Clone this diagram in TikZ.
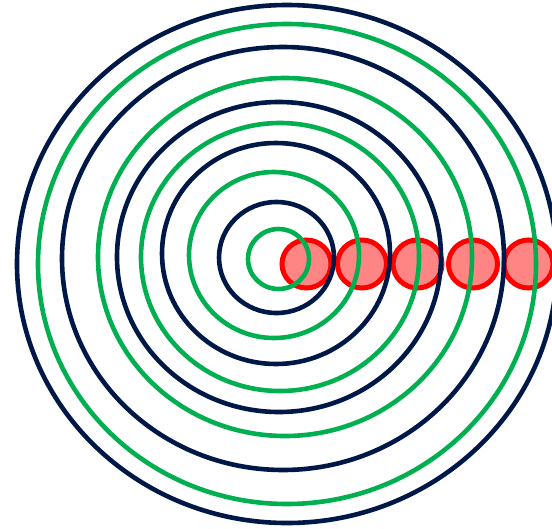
\documentclass[tikz,border=0pt]{standalone}
\definecolor{navyring}{HTML}{001848}
\definecolor{greenring}{HTML}{00B050}
\definecolor{dotfill}{HTML}{FF8585}
\tikzset{
  navyline/.style={draw=navyring,line width=4.6pt},
  greenline/.style={draw=greenring,line width=4.6pt},
  dotstyle/.style={draw=red,fill=dotfill,line width=5pt}
}
\begin{document}
\begin{tikzpicture}[x=1pt,y=-1pt]
\useasboundingbox (0,0) rectangle (552,528);
\begin{scope}
\clip (0,0) rectangle (552,528);
% red dots
\foreach \cx in {306.5,362,417.5,473,528.5}
  \path[dotstyle] (\cx,264) ellipse [x radius=24.5, y radius=24];
% rings
\path[navyline]  (287,264)   ellipse [x radius=270,  y radius=259];
\path[greenline] (287,264)   ellipse [x radius=249,  y radius=240];
\path[navyline]  (283,258.5) ellipse [x radius=221,  y radius=211.5];
\path[greenline] (285,257)   ellipse [x radius=187,  y radius=179];
\path[navyline]  (279,257)   ellipse [x radius=162,  y radius=155];
\path[greenline] (280,257)   ellipse [x radius=139,  y radius=134];
\path[navyline]  (276,253.5) ellipse [x radius=114,  y radius=110.5];
\path[greenline] (274,255)   ellipse [x radius=85,   y radius=83];
\path[navyline]  (276.5,257.5) ellipse [x radius=57.5, y radius=55.5];
\path[greenline] (278.5,259) ellipse [x radius=30.5, y radius=30];
\end{scope}
\end{tikzpicture}
\end{document}
